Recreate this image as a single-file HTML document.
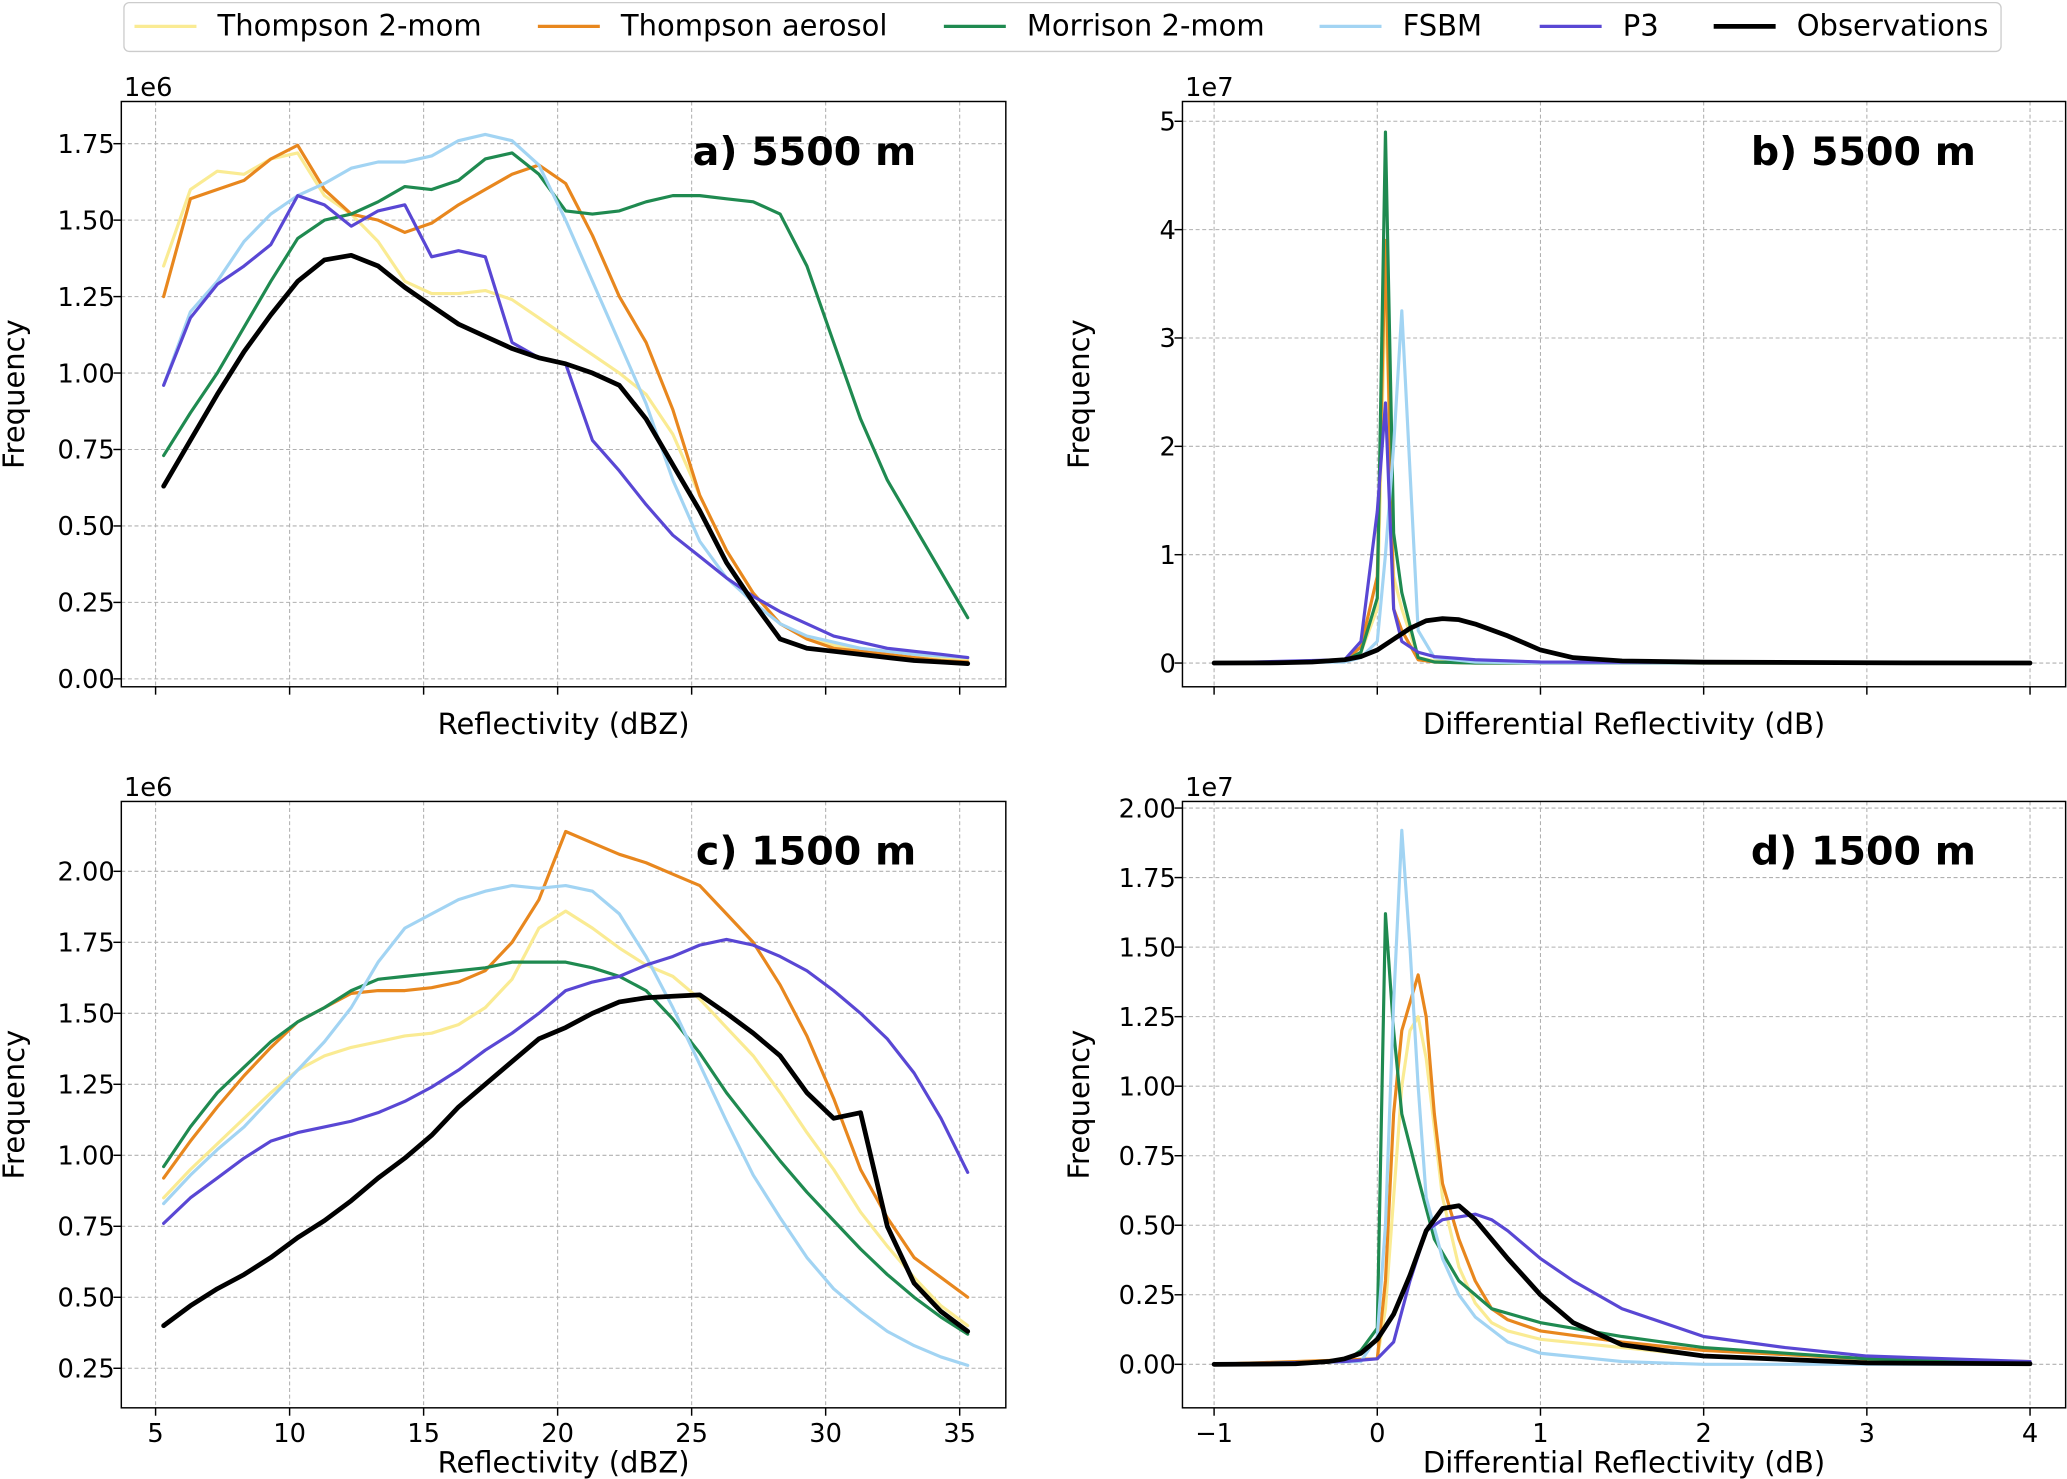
<!DOCTYPE html>
<html>
<head>
<meta charset="utf-8">
<style>
html,body{margin:0;padding:0;background:#fff;}
svg{display:block;font-family:"DejaVu Sans","Liberation Sans",sans-serif;}
</style>
</head>
<body>
<svg id="fig" width="2067" height="1479" viewBox="0 0 1568 1122" xmlns="http://www.w3.org/2000/svg">
<rect width="1568" height="1122" fill="#fff"/>
<g id="legend"></g>
</svg>
<script>
// ---------- data ----------
const refX = [5.3,6.3,7.3,8.3,9.3,10.3,11.3,12.3,13.3,14.3,15.3,16.3,17.3,18.3,19.3,20.3,21.3,22.3,23.3,24.3,25.3,26.3,27.3,28.3,29.3,30.3,31.3,32.3,33.3,34.3,35.3];
// Panel a (5500 m), units 1e6
const a_thom2 = [1.35,1.6,1.66,1.65,1.70,1.72,1.58,1.52,1.43,1.30,1.26,1.26,1.27,1.24,1.18,1.12,1.06,1.0,0.93,0.80,0.60,0.42,0.28,0.18,0.13,0.11,0.10,0.09,0.08,0.07,0.065];
const a_thomA = [1.25,1.57,1.60,1.63,1.70,1.745,1.60,1.52,1.50,1.46,1.49,1.55,1.60,1.65,1.68,1.62,1.45,1.25,1.10,0.88,0.60,0.42,0.28,0.18,0.13,0.10,0.09,0.08,0.07,0.06,0.055];
const a_morr = [0.73,0.87,1.00,1.15,1.30,1.44,1.50,1.52,1.56,1.61,1.60,1.63,1.70,1.72,1.65,1.53,1.52,1.53,1.56,1.58,1.58,1.57,1.56,1.52,1.35,1.10,0.85,0.65,0.50,0.35,0.20];
const a_fsbm = [0.96,1.20,1.30,1.43,1.52,1.58,1.62,1.67,1.69,1.69,1.71,1.76,1.78,1.76,1.68,1.50,1.30,1.10,0.90,0.65,0.45,0.33,0.25,0.18,0.14,0.12,0.10,0.09,0.08,0.075,0.07];
const a_p3 = [0.96,1.18,1.29,1.35,1.42,1.58,1.55,1.48,1.53,1.55,1.38,1.40,1.38,1.10,1.05,1.03,0.78,0.68,0.57,0.47,0.40,0.33,0.27,0.22,0.18,0.14,0.12,0.10,0.09,0.08,0.07];
const a_obs = [0.63,0.78,0.93,1.07,1.19,1.30,1.37,1.385,1.35,1.28,1.22,1.16,1.12,1.08,1.05,1.03,1.0,0.96,0.85,0.70,0.55,0.38,0.25,0.13,0.10,0.09,0.08,0.07,0.06,0.055,0.05];
// Panel c (1500 m), units 1e6
const c_thom2 = [0.85,0.95,1.04,1.13,1.22,1.30,1.35,1.38,1.40,1.42,1.43,1.46,1.52,1.62,1.80,1.86,1.80,1.73,1.67,1.63,1.55,1.45,1.35,1.22,1.08,0.95,0.80,0.68,0.57,0.47,0.40];
const c_thomA = [0.92,1.05,1.17,1.28,1.38,1.47,1.52,1.57,1.58,1.58,1.59,1.61,1.65,1.75,1.90,2.14,2.10,2.06,2.03,1.99,1.95,1.85,1.75,1.60,1.42,1.20,0.95,0.78,0.64,0.57,0.50];
const c_morr = [0.96,1.10,1.22,1.31,1.40,1.47,1.52,1.58,1.62,1.63,1.64,1.65,1.66,1.68,1.68,1.68,1.66,1.63,1.58,1.48,1.36,1.22,1.10,0.98,0.87,0.77,0.67,0.58,0.50,0.43,0.37];
const c_fsbm = [0.83,0.93,1.02,1.10,1.20,1.30,1.40,1.52,1.68,1.80,1.85,1.90,1.93,1.95,1.94,1.95,1.93,1.85,1.70,1.52,1.32,1.12,0.93,0.78,0.64,0.53,0.45,0.38,0.33,0.29,0.26];
const c_p3 = [0.76,0.85,0.92,0.99,1.05,1.08,1.10,1.12,1.15,1.19,1.24,1.30,1.37,1.43,1.50,1.58,1.61,1.63,1.67,1.70,1.74,1.76,1.74,1.70,1.65,1.58,1.50,1.41,1.29,1.13,0.94];
const c_obs = [0.40,0.47,0.53,0.58,0.64,0.71,0.77,0.84,0.92,0.99,1.07,1.17,1.25,1.33,1.41,1.45,1.50,1.54,1.555,1.56,1.565,1.50,1.43,1.35,1.22,1.13,1.15,0.75,0.55,0.45,0.38];
// Panel b (5500 m ZDR), units 1e7
const b_spikeX = [-1,-0.2,-0.1,0,0.05,0.1,0.15,0.25,0.35,0.6,1.0,4];
const b_thom2 = [0,0.02,0.1,0.5,3.5,0.8,0.5,0.05,0.02,0.01,0,0];
const b_thomA = [0,0.02,0.15,0.8,3.9,0.5,0.3,0.03,0.01,0,0,0];
const b_morr = [0,0.02,0.1,0.6,4.9,1.2,0.65,0.05,0.01,0,0,0];
const b_fsbm = [0,0.01,0.05,0.2,1.0,2.0,3.25,0.3,0.05,0.01,0,0];
const b_p3 = [0,0.03,0.2,1.4,2.4,0.5,0.2,0.1,0.06,0.03,0.01,0];
const b_obsX = [-1,-0.6,-0.4,-0.2,-0.1,0,0.1,0.2,0.3,0.4,0.5,0.6,0.8,1.0,1.2,1.5,2,3,4];
const b_obs = [0,0.003,0.01,0.03,0.06,0.12,0.22,0.32,0.39,0.41,0.40,0.36,0.25,0.12,0.05,0.02,0.008,0.002,0];
// Panel d (1500 m ZDR), units 1e7
const d_modX = [-1,0,0.05,0.1,0.15,0.2,0.25,0.3,0.35,0.4,0.5,0.6,0.7,0.8,1.0,1.5,2,3,4];
const d_thom2 = [0,0.02,0.2,0.6,1.0,1.2,1.25,1.1,0.85,0.6,0.35,0.22,0.15,0.12,0.09,0.06,0.03,0.01,0.005];
const d_thomA = [0,0.02,0.3,0.9,1.2,1.3,1.4,1.25,0.9,0.65,0.45,0.3,0.2,0.16,0.12,0.08,0.05,0.02,0.01];
const d_morrX = [-1,-0.2,-0.1,0,0.05,0.1,0.15,0.25,0.35,0.5,0.7,1.0,1.5,2,3,4];
const d_morr = [0,0.01,0.05,0.13,1.62,1.2,0.9,0.67,0.45,0.30,0.20,0.15,0.10,0.06,0.02,0.005];
const d_fsbmX = [-1,-0.1,0,0.05,0.1,0.15,0.2,0.25,0.3,0.4,0.5,0.6,0.8,1.0,1.5,2,4];
const d_fsbm = [0,0.01,0.1,0.5,1.3,1.92,1.5,1.0,0.6,0.38,0.25,0.17,0.08,0.04,0.01,0,0];
const d_p3X = [-1,-0.2,0,0.1,0.2,0.3,0.4,0.5,0.6,0.7,0.8,1.0,1.2,1.5,2,2.5,3,4];
const d_p3 = [0,0.01,0.02,0.08,0.3,0.48,0.52,0.53,0.54,0.52,0.48,0.38,0.30,0.2,0.1,0.06,0.03,0.01];
const d_obsX = [-1,-0.5,-0.3,-0.2,-0.1,0,0.1,0.2,0.3,0.4,0.5,0.6,0.8,1.0,1.2,1.5,2,3,4];
const d_obs = [0,0.002,0.01,0.02,0.04,0.09,0.18,0.32,0.48,0.56,0.57,0.52,0.38,0.25,0.15,0.07,0.03,0.005,0.002];

const refTicks = [5,10,15,20,25,30,35];
const refTickLabels = ["5","10","15","20","25","30","35"];
const zdrTicks = [-1,0,1,2,3,4];
const zdrTickLabels = ["\u22121","0","1","2","3","4"];
const aYTicks = [0,0.25,0.5,0.75,1.0,1.25,1.5,1.75];
const aYLabels = ["0.00","0.25","0.50","0.75","1.00","1.25","1.50","1.75"];
const cYTicks = [0.25,0.5,0.75,1.0,1.25,1.5,1.75,2.0];
const cYLabels = ["0.25","0.50","0.75","1.00","1.25","1.50","1.75","2.00"];
const bYTicks = [0,1,2,3,4,5];
const bYLabels = ["0","1","2","3","4","5"];
const dYTicks = [0,0.25,0.5,0.75,1.0,1.25,1.5,1.75,2.0];
const dYLabels = ["0.00","0.25","0.50","0.75","1.00","1.25","1.50","1.75","2.00"];

const seriesNames = ["Thompson 2-mom","Thompson aerosol","Morrison 2-mom","FSBM","P3","Observations"];
const colors = ["#faeb93","#e8871e","#1f8a50","#a2d4f3","#5947d4","#000000"];

// ---------- drawing ----------
const NS = "http://www.w3.org/2000/svg";
const svg = document.getElementById("fig");
function el(tag, attrs, parent){
  const e = document.createElementNS(NS, tag);
  for (const k in attrs) e.setAttribute(k, attrs[k]);
  (parent||svg).appendChild(e);
  return e;
}
const TICKFS = 19.5, LABFS = 22;

function panel(cfg){
  const g = el("g", {});
  
  
  const L=cfg.left,R=cfg.right,T=cfg.top,B=cfg.bottom;
  const sx = v => cfg.px0 + (v - cfg.x0) * cfg.pxPerX;
  const sy = v => cfg.py0 - (v - cfg.y0) * cfg.pxPerY;
  cfg.xt.forEach(t=>{
    const l = el("line",{x1:sx(t),x2:sx(t),y1:T,y2:B,stroke:"#b0b0b0","stroke-width":0.8,"stroke-dasharray":"3,2"},g);
    
    
  });
  cfg.yt.forEach(t=>{
    const l = el("line",{x1:L,x2:R,y1:sy(t),y2:sy(t),stroke:"#b0b0b0","stroke-width":0.8,"stroke-dasharray":"3,2"},g);
    
    
  });
  const cid = "clip"+cfg.name;
  const cp = el("clipPath",{id:cid},g);
  el("rect",{x:L,y:T,width:R-L,height:B-T},cp);
  const lg = el("g",{"clip-path":"url(#"+cid+")"},g);
  cfg.series.forEach((s,i)=>{
    const pts = s.y.map((v,j)=>sx(s.x[j]).toFixed(1)+","+sy(v).toFixed(1)).join(" ");
    const p = el("polyline",{points:pts,fill:"none",stroke:colors[s.c],"stroke-width":s.c===5?3.6:2.4,"stroke-linejoin":"round","stroke-linecap":"round"},lg);
    
    
  });
  const fr = el("rect",{x:L,y:T,width:R-L,height:B-T,fill:"none",stroke:"#000","stroke-width":1.1},g);
  
  
  cfg.xt.forEach((t,i)=>{
    el("line",{x1:sx(t),x2:sx(t),y1:B,y2:B+6,stroke:"#000","stroke-width":1.1},g);
    if(cfg.showXLabels){
      const tx = el("text",{x:sx(t),y:B+26,"font-size":TICKFS,"text-anchor":"middle",fill:"#000"},g);
      tx.textContent = cfg.xl[i];
      
      
    }
  });
  cfg.yt.forEach((t,i)=>{
    el("line",{x1:L-6,x2:L,y1:sy(t),y2:sy(t),stroke:"#000","stroke-width":1.1},g);
    const tx = el("text",{x:L-5,y:sy(t)+7,"font-size":TICKFS,"text-anchor":"end",fill:"#000"},g);
    tx.textContent = cfg.yl[i];
    
    
  });
  const off = el("text",{x:L+2,y:T-4,"font-size":TICKFS,fill:"#000"},g);
  off.textContent = cfg.offset;
  
  
  const xt = el("text",{x:(L+R)/2,y:cfg.xlabelY,"font-size":LABFS,"text-anchor":"middle",fill:"#000"},g);
  xt.textContent = cfg.xtitle;
  
  
  const yt = el("text",{x:0,y:0,"font-size":22,"text-anchor":"middle",fill:"#000",transform:"translate("+(cfg.ylabelX)+","+((T+B)/2)+") rotate(-90)"},g);
  yt.textContent = "Frequency";
  
  
  const ti = el("text",{x:R-68,y:T+48,"font-size":30,"font-weight":"bold","text-anchor":"end",fill:"#000"},g);
  ti.textContent = cfg.title;
  
  
}

const refXcfg = {x0:5,px0:118,pxPerX:(728-118)/30};
const zdrXcfg = {x0:-1,px0:921,pxPerX:(1540-921)/5};
function refSeries(arrs){ return arrs.map((y,i)=>({x:refX,y:y,c:i})); }

panel(Object.assign({name:"panel-a",left:92,right:763,top:77,bottom:521,y0:0,py0:515,pxPerY:(515-109)/1.75,
  xt:refTicks,xl:refTickLabels,yt:aYTicks,yl:aYLabels,showXLabels:false,offset:"1e6",
  xtitle:"Reflectivity (dBZ)",xlabelY:557,ylabelX:18,title:"a) 5500 m",
  series:refSeries([a_thom2,a_thomA,a_morr,a_fsbm,a_p3,a_obs])},refXcfg));
panel(Object.assign({name:"panel-c",left:92,right:763,top:608,bottom:1068,y0:0.25,py0:1038,pxPerY:(1038-661)/1.75,
  xt:refTicks,xl:refTickLabels,yt:cYTicks,yl:cYLabels,showXLabels:true,offset:"1e6",
  xtitle:"Reflectivity (dBZ)",xlabelY:1117,ylabelX:18,title:"c) 1500 m",
  series:refSeries([c_thom2,c_thomA,c_morr,c_fsbm,c_p3,c_obs])},refXcfg));
panel(Object.assign({name:"panel-b",left:897,right:1567,top:77,bottom:521,y0:0,py0:503,pxPerY:(503-92)/5,
  xt:zdrTicks,xl:zdrTickLabels,yt:bYTicks,yl:bYLabels,showXLabels:false,offset:"1e7",
  xtitle:"Differential Reflectivity (dB)",xlabelY:557,ylabelX:826,title:"b) 5500 m",
  series:[{x:b_spikeX,y:b_thom2,c:0},{x:b_spikeX,y:b_thomA,c:1},{x:b_spikeX,y:b_morr,c:2},{x:b_spikeX,y:b_fsbm,c:3},{x:b_spikeX,y:b_p3,c:4},{x:b_obsX,y:b_obs,c:5}]},zdrXcfg));
panel(Object.assign({name:"panel-d",left:897,right:1567,top:608,bottom:1068,y0:0,py0:1035,pxPerY:(1035-613)/2,
  xt:zdrTicks,xl:zdrTickLabels,yt:dYTicks,yl:dYLabels,showXLabels:true,offset:"1e7",
  xtitle:"Differential Reflectivity (dB)",xlabelY:1117,ylabelX:826,title:"d) 1500 m",
  series:[{x:d_modX,y:d_thom2,c:0},{x:d_modX,y:d_thomA,c:1},{x:d_morrX,y:d_morr,c:2},{x:d_fsbmX,y:d_fsbm,c:3},{x:d_p3X,y:d_p3,c:4},{x:d_obsX,y:d_obs,c:5}]},zdrXcfg));

// legend
const lgd = document.getElementById("legend");
el("rect",{x:94,y:2,width:1424,height:37,rx:4,fill:"#fff",stroke:"#cccccc","stroke-width":1},lgd);
const legX = [102,408,716,1001,1168,1300];
seriesNames.forEach((n,i)=>{
  const ge = el("g",{},lgd);
  
  
  el("line",{x1:legX[i],x2:legX[i]+47,y1:20,y2:20,stroke:colors[i],"stroke-width":i===5?3.6:2.4},ge);
  const t = el("text",{x:legX[i]+63,y:27,"font-size":22,fill:"#000"},ge);
  t.textContent = n;
});
</script>
</body>
</html>
